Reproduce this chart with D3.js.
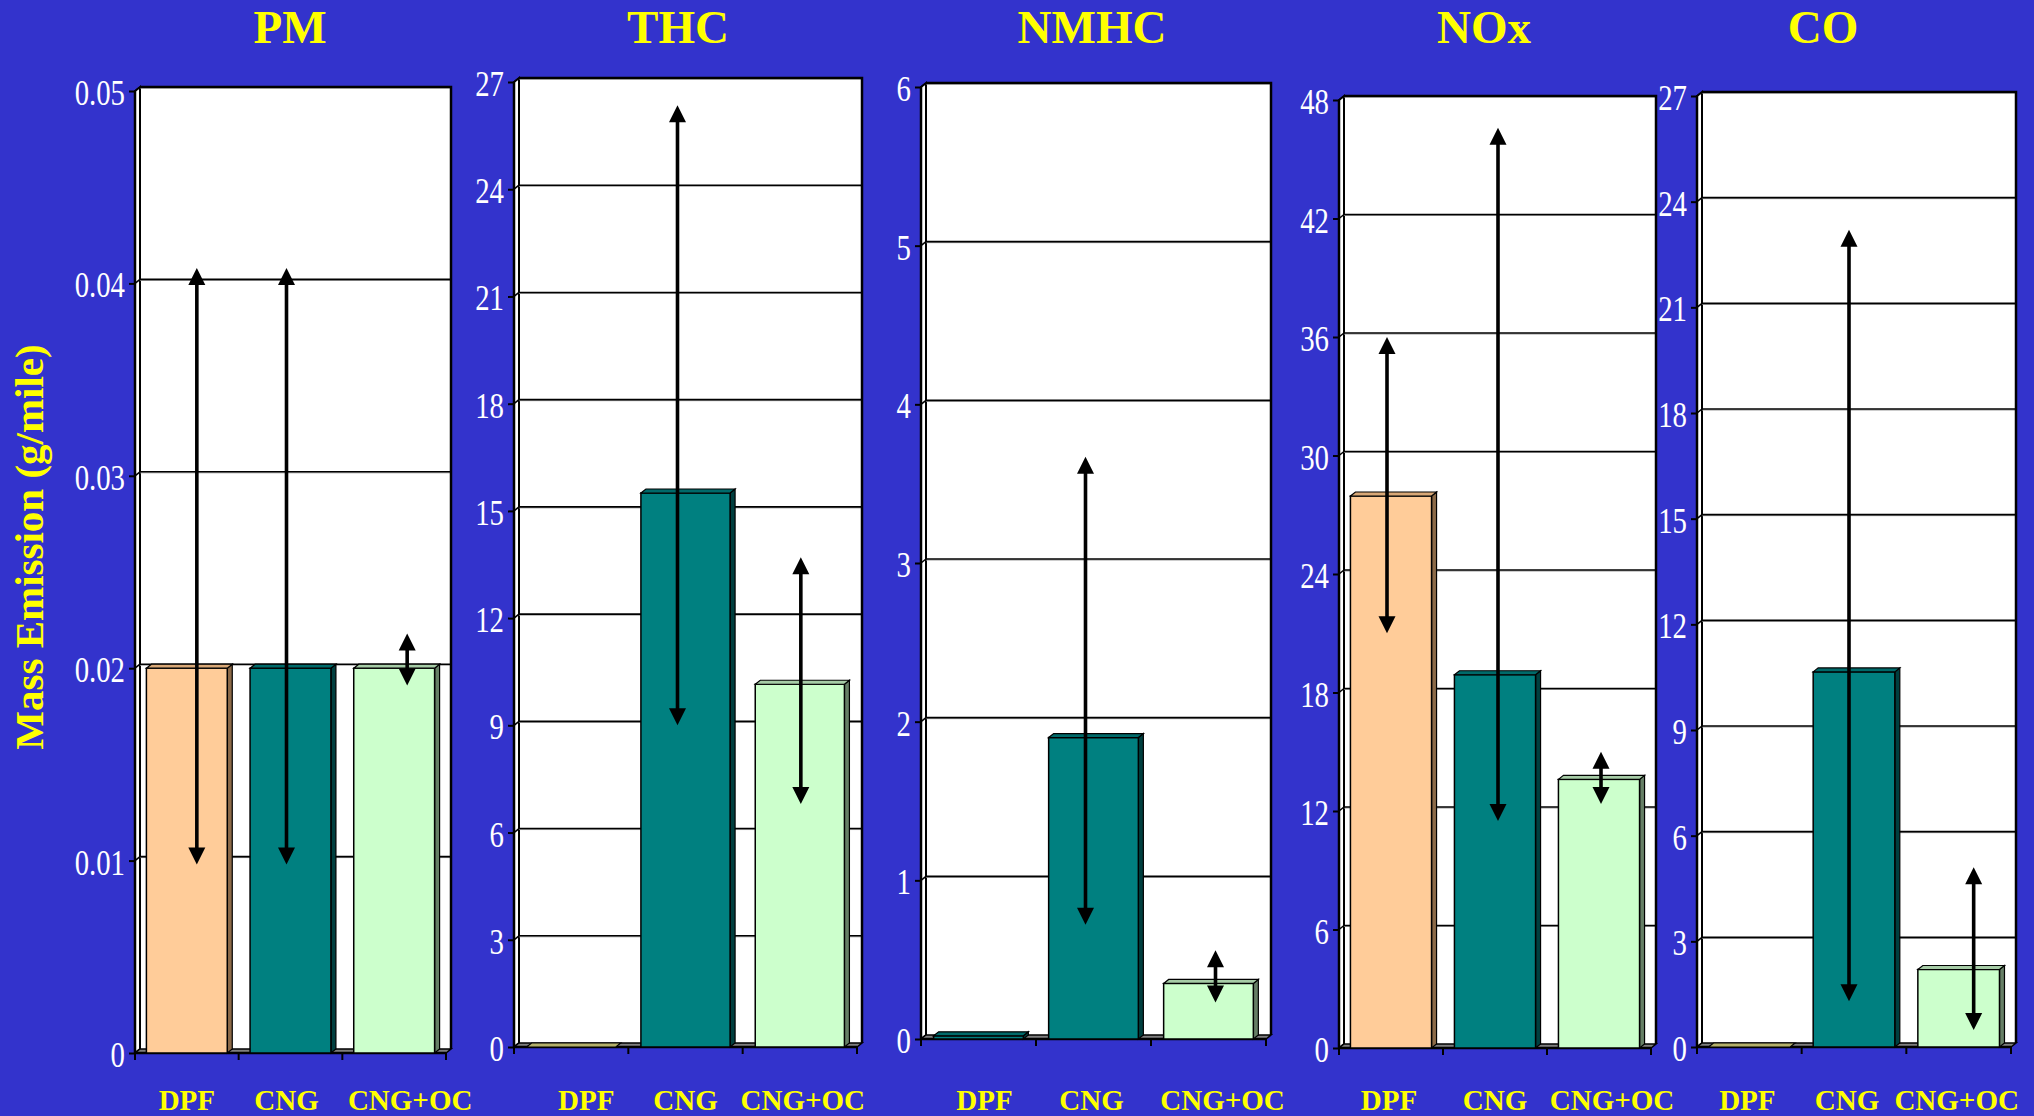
<!DOCTYPE html>
<html><head><meta charset="utf-8">
<script src="https://cdn.jsdelivr.net/npm/d3@7"></script>
<style>html,body{margin:0;padding:0;background:#3333CC;overflow:hidden}svg{display:block}</style>
</head><body>
<svg id="c" width="2034" height="1116"></svg>
<script>
// ---------------- DATA ----------------
const categories = ["DPF", "CNG", "CNG+OC"];
const pollutants = ["PM", "THC", "NMHC", "NOx", "CO"];
const yAxisTitle = "Mass Emission (g/mile)";

const pmTicks   = ["0", "0.01", "0.02", "0.03", "0.04", "0.05"];
const thcTicks  = ["0", "3", "6", "9", "12", "15", "18", "21", "24", "27"];
const nmhcTicks = ["0", "1", "2", "3", "4", "5", "6"];
const noxTicks  = ["0", "6", "12", "18", "24", "30", "36", "42", "48"];
const coTicks   = ["0", "3", "6", "9", "12", "15", "18", "21", "24", "27"];

const pmValues   = [0.02, 0.02, 0.02];
const thcValues  = [0, 15.5, 10.15];
const nmhcValues = [0.02, 1.9, 0.35];
const noxValues  = [27.95, 18.9, 13.6];
const coValues   = [0, 10.65, 2.2];

// arrow (range) end points: low / high, null = no arrow
const pmLow    = [0.0098, 0.0098, 0.0191];
const pmHigh   = [0.0408, 0.0408, 0.0218];
const thcLow   = [null, 9.0, 6.8];
const thcHigh  = [null, 26.35, 13.7];
const nmhcLow  = [null, 0.72, 0.23];
const nmhcHigh = [null, 3.67, 0.56];
const noxLow   = [21.0, 11.5, 12.35];
const noxHigh  = [36.0, 46.6, 15.0];
const coLow    = [null, 1.3, 0.48];
const coHigh   = [null, 23.2, 5.1];

const tickSets  = [pmTicks, thcTicks, nmhcTicks, noxTicks, coTicks];
const valueSets = [pmValues, thcValues, nmhcValues, noxValues, coValues];
const lowSets   = [pmLow, thcLow, nmhcLow, noxLow, coLow];
const highSets  = [pmHigh, thcHigh, nmhcHigh, noxHigh, coHigh];

// ---------------- LAYOUT / STYLE ----------------
const layout = [
  {axisX: 135,  right: 451,  top: 91,  bottom: 1053, titleX: 290},
  {axisX: 514,  right: 862,  top: 82,  bottom: 1047, titleX: 678},
  {axisX: 921,  right: 1271, top: 87,  bottom: 1039, titleX: 1092},
  {axisX: 1339, right: 1656, top: 100, bottom: 1048, titleX: 1484},
  {axisX: 1697, right: 2016, top: 96,  bottom: 1047, titleX: 1823}
];
// hand-placed offsets (px) of the arrows and category labels from band centres
const arrowNudge = [[10, -4, 13], [0, -8, 1], [0, -8, 7], [-4, 3, 2], [0, -5, 15]];
const labelNudge = [[0, -4, 16], [15, 0, 3], [6, -2, 14], [-2, 0, 13], [-2, -7, -2]];
const DX = 5, DY = 4;
const palette = {
  peach: {front: "#FFCC99", top: "#D9A877", side: "#8C6A48"},
  teal:  {front: "#008080", top: "#006A6A", side: "#003F3F"},
  green: {front: "#CCFFCC", top: "#A6CCA6", side: "#667F66"},
  olive: {front: "#B4B06A", top: "#B4B06A", side: "#7A7848"}
};
const barStyle = [
  ["peach", "teal", "green"],
  ["olive", "teal", "green"],
  ["teal",  "teal", "green"],
  ["peach", "teal", "green"],
  ["olive", "teal", "green"]
];
const SERIF = "'Liberation Serif','Times New Roman',Times,serif";
const YELLOW = "#FFFF00";

const svg = d3.select("#c");
svg.append("rect").attr("width", 2034).attr("height", 1116).attr("fill", "#3333CC");

const pts = a => a.map(p => p.join(",")).join(" ");

pollutants.forEach((name, i) => {
  const L = layout[i];
  const ticks = tickSets[i].map(Number);
  const maxV = d3.max(ticks);
  const y = d3.scaleLinear().domain([0, maxV]).range([L.bottom, L.top]);
  const x = d3.scaleBand().domain(categories).range([L.axisX, L.right - DX]);
  const g = svg.append("g");
  const yMax = y(maxV);

  // back wall
  g.append("rect")
    .attr("x", L.axisX + DX).attr("y", yMax - DY)
    .attr("width", L.right - L.axisX - DX).attr("height", (L.bottom - DY) - (yMax - DY))
    .attr("fill", "#fff");
  // left side wall
  g.append("polygon")
    .attr("points", pts([[L.axisX, yMax], [L.axisX + DX, yMax - DY], [L.axisX + DX, L.bottom - DY], [L.axisX, L.bottom]]))
    .attr("fill", "#fff").attr("stroke", "#000").attr("stroke-width", 2);

  // gridlines
  ticks.filter(v => v > 0).forEach(v => {
    g.append("line")
      .attr("x1", L.axisX + DX).attr("x2", L.right)
      .attr("y1", y(v) - DY + 1).attr("y2", y(v) - DY + 1)
      .attr("stroke", "#9a9a9a").attr("stroke-width", 1);
    g.append("line")
      .attr("x1", L.axisX + DX).attr("x2", L.right)
      .attr("y1", y(v) - DY).attr("y2", y(v) - DY)
      .attr("stroke", "#000").attr("stroke-width", 1.6);
    g.append("line")
      .attr("x1", L.axisX).attr("x2", L.axisX + DX)
      .attr("y1", y(v)).attr("y2", y(v) - DY)
      .attr("stroke", "#000").attr("stroke-width", 1.6);
  });

  // box outline (top and right of back wall)
  g.append("polyline")
    .attr("points", pts([[L.axisX + DX, yMax - DY], [L.right, yMax - DY], [L.right, L.bottom - DY]]))
    .attr("fill", "none").attr("stroke", "#000").attr("stroke-width", 2.5);

  // floor
  g.append("polygon")
    .attr("points", pts([[L.axisX, L.bottom], [L.axisX + DX, L.bottom - DY], [L.right, L.bottom - DY], [L.right - DX, L.bottom]]))
    .attr("fill", "#7f7f7f").attr("stroke", "#000").attr("stroke-width", 1.5);

  // y axis (tick marks via d3 axis)
  const ya = g.append("g").attr("transform", `translate(${L.axisX},0)`)
    .call(d3.axisLeft(y).tickValues(ticks).tickSize(6).tickFormat(""));
  ya.select(".domain").attr("stroke", "#000").attr("stroke-width", 2.5).attr("d", `M0,${yMax}V${L.bottom}`);
  ya.selectAll(".tick line").attr("stroke", "#000").attr("stroke-width", 2);

  // tick labels (condensed serif)
  g.selectAll("text.tl").data(tickSets[i]).enter().append("text")
    .attr("class", "tl")
    .attr("transform", d => `translate(${L.axisX - 10},${y(+d) + 14}) scale(0.8,1)`)
    .attr("text-anchor", "end")
    .attr("font-family", SERIF).attr("font-size", 36).attr("fill", "#fff")
    .text(d => d);

  // x axis
  const xa = g.append("g").attr("transform", `translate(0,${L.bottom})`)
    .call(d3.axisBottom(x).tickSize(0).tickFormat(""));
  xa.select(".domain").attr("stroke", "#000").attr("stroke-width", 2.5).attr("d", `M${L.axisX},0H${L.right - DX}`);
  xa.selectAll(".tick").remove();
  const bounds = categories.map(c => x(c)).concat([x(categories[categories.length - 1]) + x.bandwidth()]);
  bounds.forEach(bx => {
    g.append("line").attr("x1", bx).attr("x2", bx).attr("y1", L.bottom).attr("y2", L.bottom + 7)
      .attr("stroke", "#000").attr("stroke-width", 2);
  });

  // bars
  const bw = x.bandwidth() * 0.78;
  categories.forEach((c, j) => {
    const v = valueSets[i][j];
    const st = palette[barStyle[i][j]];
    const bx = x(c) + (x.bandwidth() - bw) / 2;
    const yt = y(v);
    if (L.bottom - yt > 0.5) {
      g.append("polygon")
        .attr("points", pts([[bx + bw, yt], [bx + bw + DX, yt - DY], [bx + bw + DX, L.bottom - DY], [bx + bw, L.bottom]]))
        .attr("fill", st.side).attr("stroke", "#000").attr("stroke-width", 1.2);
      g.append("rect").attr("x", bx).attr("y", yt).attr("width", bw).attr("height", L.bottom - yt)
        .attr("fill", st.front).attr("stroke", "#000").attr("stroke-width", 1.5);
    }
    g.append("polygon")
      .attr("points", pts([[bx, yt], [bx + DX, yt - DY], [bx + bw + DX, yt - DY], [bx + bw, yt]]))
      .attr("fill", st.top).attr("stroke", "#000").attr("stroke-width", 1.2);
  });

  // range arrows
  categories.forEach((c, j) => {
    const lo = lowSets[i][j], hi = highSets[i][j];
    if (lo == null || hi == null) return;
    const cx = x(c) + x.bandwidth() / 2 + arrowNudge[i][j];
    const yl = y(lo), yh = y(hi);
    const hw = 8.5, hh = 17;
    g.append("line").attr("x1", cx).attr("x2", cx).attr("y1", yh + hh - 2).attr("y2", yl - hh + 2)
      .attr("stroke", "#000").attr("stroke-width", 3.6);
    g.append("polygon").attr("points", pts([[cx, yh], [cx - hw, yh + hh], [cx + hw, yh + hh]])).attr("fill", "#000");
    g.append("polygon").attr("points", pts([[cx, yl], [cx - hw, yl - hh], [cx + hw, yl - hh]])).attr("fill", "#000");
  });

  // category labels
  g.selectAll("text.cl").data(categories).enter().append("text")
    .attr("class", "cl")
    .attr("x", (d, j) => x(d) + x.bandwidth() / 2 + labelNudge[i][j]).attr("y", 1110)
    .attr("text-anchor", "middle")
    .attr("font-family", SERIF).attr("font-weight", "bold").attr("font-size", 29).attr("fill", YELLOW)
    .text(d => d);

  // title
  g.append("text").attr("x", L.titleX).attr("y", 43)
    .attr("text-anchor", "middle")
    .attr("font-family", SERIF).attr("font-weight", "bold").attr("font-size", 47).attr("fill", YELLOW)
    .text(name);
});

// y axis title
svg.append("text")
  .attr("transform", "translate(43,547) rotate(-90)")
  .attr("text-anchor", "middle")
  .attr("font-family", SERIF).attr("font-weight", "bold").attr("font-size", 41).attr("fill", YELLOW)
  .text(yAxisTitle);
</script>
</body></html>
